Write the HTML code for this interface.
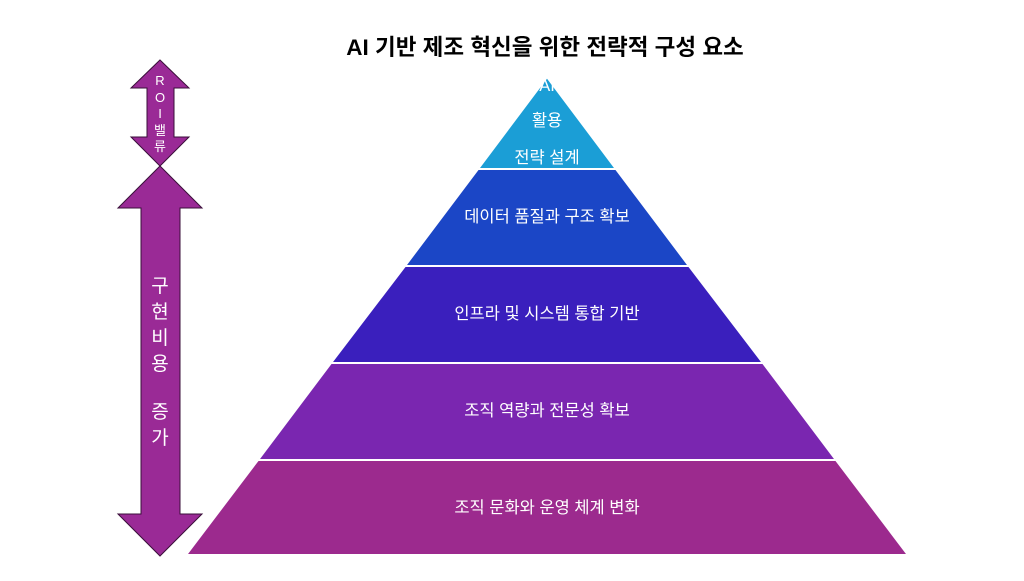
<!DOCTYPE html>
<html><head><meta charset="utf-8"><style>
body{margin:0;background:#fff;width:1024px;height:576px;overflow:hidden}
svg text{font-family:"Liberation Sans","Noto Sans CJK KR",sans-serif}
</style></head><body>
<svg width="1024" height="576" viewBox="0 0 1024 576">
<text x="545" y="55" text-anchor="middle" font-size="22.5" font-weight="bold" fill="#000">AI 기반 제조 혁신을 위한 전략적 구성 요소</text>
<g stroke="#fff" stroke-width="2">
<polygon points="547,77 616,169 478,169" fill="#1b9ed6"/>
<polygon points="478,169 616,169 689,266 405,266" fill="#1b46c6"/>
<polygon points="405,266 689,266 763,363 331,363" fill="#3a1fbd"/>
<polygon points="331,363 763,363 836,460 258,460" fill="#7a26b0"/>
<polygon points="258,460 836,460 908,555 186,555" fill="#9c2a8e"/>
</g>
<g fill="#fff" font-size="16.5" text-anchor="middle">
<text x="547" y="91">AI</text>
<text x="547" y="126">활용</text>
<text x="547" y="163">전략 설계</text>
<text x="547" y="222">데이터 품질과 구조 확보</text>
<text x="547" y="319">인프라 및 시스템 통합 기반</text>
<text x="547" y="416">조직 역량과 전문성 확보</text>
<text x="547" y="513">조직 문화와 운영 체계 변화</text>
</g>
<g fill="#9a2a96" stroke="#3a0f3a" stroke-width="1">
<polygon points="160,60 189,88 174,88 174,137 189,137 160,166 131,137 147,137 147,88 131,88"/>
<polygon points="160,166 202,208 180,208 180,514 202,514 160,556 118,514 141,514 141,208 118,208"/>
</g>
<g fill="#fff" font-size="13" text-anchor="middle">
<text x="160" y="85">R</text>
<text x="160" y="102">O</text>
<text x="160" y="118">I</text>
<text x="160" y="135">밸</text>
<text x="160" y="151">류</text>
</g>
<g fill="#fff" font-size="19" text-anchor="middle">
<text x="160" y="292">구</text>
<text x="160" y="318">현</text>
<text x="160" y="344">비</text>
<text x="160" y="370">용</text>
<text x="160" y="418">증</text>
<text x="160" y="444">가</text>
</g>
</svg>
</body></html>
